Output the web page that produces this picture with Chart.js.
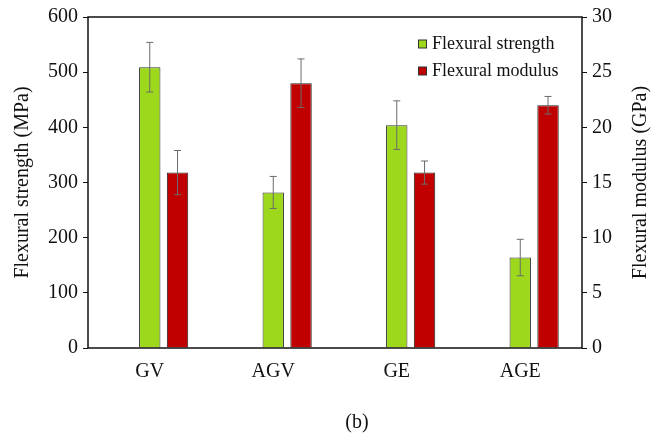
<!DOCTYPE html>
<html>
<head>
<meta charset="utf-8">
<script src="https://cdn.jsdelivr.net/npm/chart.js@4.4.0/dist/chart.umd.min.js"></script>
<style>
  html, body { margin: 0; padding: 0; background: #fff; }
</style>
</head>
<body>
<canvas id="canvas" width="652" height="438"></canvas>
<script>
// Dữ liệu
const categories = ['GV', 'AGV', 'GE', 'AGE'];
const strengthValues = [509, 282, 404, 164];      // MPa
const strengthErrors = [45, 29, 44, 33];
const modulusValues = [15.9, 24.0, 15.9, 22.0];   // GPa
const modulusErrors = [2.0, 2.2, 1.05, 0.8];
const strengthTicks = { min: 0, max: 600, step: 100 };
const modulusTicks = { min: 0, max: 30, step: 5 };

const FONT = "'Liberation Serif', 'Times New Roman', serif";
const GREEN = '#9dd81c';
const RED = '#c00000';

// Thanh sai số (error bars)
const errorBarPlugin = {
    id: 'errorBars',
    afterDatasetsDraw(chart) {
        const ctx = chart.ctx;
        chart.data.datasets.forEach((ds, i) => {
            if (!ds.errors) return;
            const meta = chart.getDatasetMeta(i);
            const scale = chart.scales[meta.yAxisID];
            meta.data.forEach((bar, j) => {
                const v = ds.data[j], e = ds.errors[j];
                if (v == null) return;
                const yTop = scale.getPixelForValue(v + e);
                const yBot = scale.getPixelForValue(v - e);
                ctx.save();
                ctx.strokeStyle = '#6b6b6b';
                ctx.lineWidth = 1;
                ctx.beginPath();
                ctx.moveTo(bar.x, yTop); ctx.lineTo(bar.x, yBot);
                ctx.moveTo(bar.x - 3.5, yTop); ctx.lineTo(bar.x + 3.5, yTop);
                ctx.moveTo(bar.x - 3.5, yBot); ctx.lineTo(bar.x + 3.5, yBot);
                ctx.stroke();
                ctx.restore();
            });
        });
    }
};

// Khung, chú thích, tiêu đề trục phải và nhãn (b)
const decorPlugin = {
    id: 'decor',
    afterDraw(chart) {
        const ctx = chart.ctx;
        const a = chart.chartArea;
        ctx.save();
        ctx.strokeStyle = '#111';
        ctx.lineWidth = 1.5;
        ctx.strokeRect(a.left, a.top, a.right - a.left, a.bottom - a.top);

        // chú thích
        ctx.font = '18px ' + FONT;
        ctx.textBaseline = 'middle';
        ctx.fillStyle = '#111';
        let y = 44;
        chart.data.datasets.forEach(ds => {
            if (!ds.label) return;
            ctx.fillStyle = ds.backgroundColor;
            ctx.fillRect(418.5, y - 4, 8, 8);
            ctx.strokeStyle = '#333';
            ctx.lineWidth = 1;
            ctx.strokeRect(418.5, y - 4, 8, 8);
            ctx.fillStyle = '#111';
            ctx.textAlign = 'left';
            ctx.fillText(ds.label, 432, y);
            y += 27;
        });

        // tiêu đề trục phải
        ctx.save();
        ctx.font = '20px ' + FONT;
        ctx.textAlign = 'center';
        ctx.textBaseline = 'middle';
        ctx.translate(641, (a.top + a.bottom) / 2);
        ctx.rotate(-Math.PI / 2);
        ctx.fillText('Flexural modulus (GPa)', 0, 0);
        ctx.restore();

        // nhãn (b)
        ctx.font = '20px ' + FONT;
        ctx.textAlign = 'center';
        ctx.textBaseline = 'middle';
        ctx.fillText('(b)', 357, 423);
        ctx.restore();
    }
};

function renderChart() {
    const ctx = document.getElementById('canvas').getContext('2d');
    new Chart(ctx, {
        type: 'bar',
        data: {
            labels: categories,
            datasets: [
                { // ô trống để cột xanh nằm giữa nhãn
                    label: '',
                    data: categories.map(() => null),
                    yAxisID: 'y',
                    backgroundColor: 'rgba(0,0,0,0)'
                },
                {
                    label: 'Flexural strength',
                    data: strengthValues,
                    errors: strengthErrors,
                    yAxisID: 'y',
                    backgroundColor: GREEN,
                    borderColor: '#333',
                    borderWidth: 1
                },
                {
                    label: 'Flexural modulus',
                    data: modulusValues,
                    errors: modulusErrors,
                    yAxisID: 'y2',
                    backgroundColor: RED,
                    borderColor: '#222',
                    borderWidth: 1
                }
            ]
        },
        options: {
            responsive: false,
            animation: false,
            categoryPercentage: 0.675,
            barPercentage: 0.77,
            layout: { padding: { top: 17, left: 0, right: 0, bottom: 0 } },
            plugins: {
                legend: { display: false },
                tooltip: { enabled: false }
            },
            scales: {
                x: {
                    grid: { display: false },
                    border: { display: false },
                    ticks: {
                        color: '#111',
                        padding: 4,
                        font: { family: FONT, size: 20 }
                    },
                    afterFit(scale) { scale.height = 90; }
                },
                y: {
                    position: 'left',
                    min: strengthTicks.min,
                    max: strengthTicks.max,
                    grid: { drawOnChartArea: false, drawTicks: true, tickLength: 5, color: '#111' },
                    border: { display: false },
                    ticks: {
                        stepSize: strengthTicks.step,
                        color: '#111',
                        padding: 5,
                        font: { family: FONT, size: 20 }
                    },
                    title: {
                        display: true,
                        text: 'Flexural strength (MPa)',
                        color: '#111',
                        font: { family: FONT, size: 20, lineHeight: 1 },
                        padding: { top: 13, bottom: 0 }
                    },
                    afterFit(scale) { scale.width = 88; }
                },
                y2: {
                    position: 'right',
                    min: modulusTicks.min,
                    max: modulusTicks.max,
                    grid: { drawOnChartArea: false, drawTicks: true, tickLength: 5, color: '#111' },
                    border: { display: false },
                    ticks: {
                        stepSize: modulusTicks.step,
                        color: '#111',
                        padding: 5,
                        font: { family: FONT, size: 20 }
                    },
                    afterFit(scale) { scale.width = 70; }
                }
            }
        },
        plugins: [errorBarPlugin, decorPlugin]
    });
}

renderChart();
</script>
</body>
</html>
